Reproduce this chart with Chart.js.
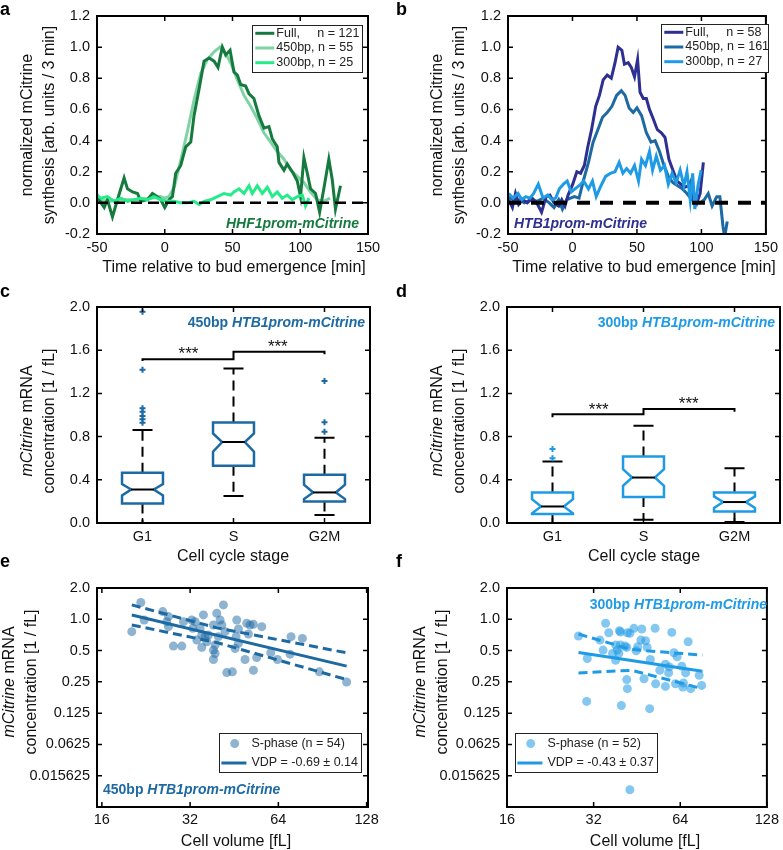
<!DOCTYPE html>
<html>
<head>
<meta charset="utf-8">
<title>mCitrine synthesis and mRNA concentration</title>
<script src="https://cdn.jsdelivr.net/npm/chart.js@4.4.1/dist/chart.umd.min.js"></script>
<style>
  html, body { margin: 0; padding: 0; background: #fff; }
  #fig { position: relative; width: 783px; height: 850px; overflow: hidden; }
  #fig canvas { position: absolute; }
  .tag { position: absolute; font: bold 18px 'Liberation Sans', Arial, sans-serif; line-height: 18px; color: #000; }
</style>
</head>
<body>
<div id="fig">
  <canvas id="pa" width="392" height="280" style="left:0px;top:0px"></canvas>
  <canvas id="pb" width="391" height="280" style="left:392px;top:0px"></canvas>
  <canvas id="pc" width="392" height="290" style="left:0px;top:280px"></canvas>
  <canvas id="pd" width="391" height="290" style="left:392px;top:280px"></canvas>
  <canvas id="pe" width="392" height="290" style="left:0px;top:560px"></canvas>
  <canvas id="pf" width="391" height="290" style="left:392px;top:560px"></canvas>
  <div class="tag" style="left:0px;top:0px">a</div>
  <div class="tag" style="left:396px;top:0px">b</div>
  <div class="tag" style="left:0px;top:282px">c</div>
  <div class="tag" style="left:396px;top:282px">d</div>
  <div class="tag" style="left:0px;top:552px">e</div>
  <div class="tag" style="left:396px;top:552px">f</div>
</div>
<script>
const FONT = "'Liberation Sans', Arial, sans-serif";
Chart.defaults.font.family = FONT;

// ---- panel a: HHF1 promoter, synthesis vs time ----
const tA_full = [-51,-47.2,-44.7,-42.3,-38.6,-34.9,-30,-27.5,-23.8,-20.1,-17.7,-12.8,-9.1,-5.4,-2.9,0,3.2,5.7,8.1,11.8,15.5,19.2,21.6,25.3,29,32.7,36.4,39.3,42.5,45,48.2,51.1,53.6,56,59.7,62.2,65.8,69.5,73.2,76.9,79.4,83,84.3,88,90.4,94.8,97.8,100.2,102.7,105.2,107.6,111.3,114.3,117.4,121.1,123.6,126,129.7];
const yA_full = [0.07,0.0,-0.03,0.02,-0.09,0.02,0.16,0.09,0.07,0.06,0.01,0.02,0.06,0.04,0.02,-0.03,0.02,0.04,0.19,0.24,0.36,0.39,0.56,0.73,0.91,0.93,0.91,0.87,1.0,0.95,0.98,0.84,0.82,0.76,0.75,0.70,0.67,0.56,0.48,0.49,0.41,0.36,0.26,0.21,0.25,0.19,0.14,0.04,0.29,0.19,0.09,0.06,-0.06,0.09,0.28,0.15,-0.04,0.11];
const tA_450 = [-52,-40,-30,-20,-10,-3,0,3,7,12,17,21.6,26.5,31.4,36.4,40.8,45,48.6,53.6,58.5,63.4,68.3,73.2,78.1,83,88,92.9,97.8,102.7,107.6,112.5,117,122];
const yA_450 = [0.02,0.01,0.02,0.02,0.03,0.04,0.03,0.04,0.10,0.28,0.47,0.66,0.83,0.92,0.97,1.0,0.96,0.90,0.79,0.69,0.62,0.54,0.45,0.39,0.33,0.28,0.21,0.17,0.13,0.07,0.02,0.01,0.03];
const tA_300 = [-52,-47.2,-42.3,-37.3,-32.4,-27.5,-22.6,-17.7,-12.8,-7.9,-2.9,2,6.9,11.8,16.7,21.6,25.3,29,33.9,38.8,43.7,48.6,51.1,54.8,58.5,62.2,64.6,68.3,72,75.7,79.4,83,86.7,90.4,94.1,97.8,101.5,103.9,106.4];
const yA_300 = [0.06,0.03,0.04,0.01,0.03,0.01,0.02,0.03,0.02,0.04,0.02,0.01,0.01,0.0,0.0,0.01,-0.01,0.01,0.02,0.04,0.06,0.05,0.07,0.09,0.06,0.11,0.06,0.11,0.06,0.10,0.04,0.07,0.03,0.05,0.02,0.04,0.05,-0.02,0.03];
const legendA = ['Full,     n = 121', '450bp, n = 55', '300bp, n = 25'];

// ---- panel b: HTB1 promoter, synthesis vs time ----
const tB_full = [-49.5,-46.6,-44.2,-41.7,-38.6,-35,-31.3,-27.7,-24,-20.4,-17.5,-14.3,-10.7,-8.3,-5.8,-3.4,0.2,3.4,6.3,9.2,11.9,14.8,18,20.9,23.8,26.9,30.1,33,35.4,38.3,40.3,43.2,45.6,48.1,50.5,52.4,54.9,57.3,59.7,62.6,65.8,68.9,71.8,74.8,77.9,81.1,84,86.9,90,92.5,94.2,96.1,99,101.5];
const yB_full = [0.02,-0.03,0.06,-0.01,0.02,0,0.03,0,-0.06,0.04,0.05,0,-0.02,0.02,-0.02,0.05,0.12,0.20,0.19,0.24,0.36,0.47,0.62,0.69,0.79,0.82,0.80,0.90,1.0,0.98,0.89,0.90,0.87,0.81,0.92,0.71,0.67,0.67,0.60,0.54,0.47,0.45,0.42,0.28,0.21,0.14,0.12,0.10,0.11,0.15,0.0,-0.01,0.06,0.26];
const tB_450 = [-49.5,-44.7,-41,-37.4,-32.5,-27.7,-22.8,-18,-14.3,-10.7,-7.8,-4.6,-1.5,1.5,5.1,8.7,12.4,16,19.7,23.3,26.9,30.6,34.2,37.9,40.8,43.9,47.1,50,53.6,57.3,60.9,64.1,67.5,70.6,74.3,77.9,81.6,85.2,88.8,92.5,96.1,99,102.2,105.3,108.3,111.9,114.3,116.7,118,120];
const yB_450 = [0.04,0.01,0.02,0,0.02,0.01,0.03,0,-0.03,0.02,-0.04,0.02,0.03,0.04,0.03,0.15,0.26,0.39,0.47,0.55,0.58,0.62,0.69,0.72,0.69,0.61,0.58,0.61,0.56,0.45,0.39,0.40,0.33,0.25,0.17,0.13,0.11,0.09,0.06,0.02,0,0,0.02,0.06,-0.02,0.04,0.04,-0.15,-0.22,-0.12];
const tB_300 = [-49.5,-45.9,-42.2,-39.3,-36.2,-33,-30.1,-26.5,-22.8,-19.2,-16,-13.1,-10.2,-7,-4.1,-1,1.9,5.1,8.7,12.4,15.5,18.4,22.1,25.7,29.4,33,36.2,39.1,42,45.1,48.1,51.2,53.6,56.6,59.7,62.1,65,68.2,71.4,74.3,77.2,80.4,83.5,86.4,88.8,91.3,93.2,94.9,97.3,99.8];
const yB_300 = [0.06,0.03,0.06,0.02,0.04,0.03,0.06,0.12,0.03,0.05,0.02,0.03,0.09,0.12,0.14,0.07,0.09,0.11,0.14,0.09,0.14,0.04,0.11,0.17,0.19,0.20,0.26,0.19,0.22,0.19,0.24,0.14,0.28,0.24,0.33,0.21,0.30,0.21,0.24,0.12,0.19,0.13,0.21,0.11,0.20,0.02,0.19,-0.04,0.11,0.21];
const legendB = ['Full,     n = 58', '450bp, n = 161', '300bp, n = 27'];

const zeroX = [-50, 150];
const zeroY = [0, 0];
const timeTicks = [-50, 0, 50, 100, 150];
const synthTicks = [-0.2, 0, 0.2, 0.4, 0.6, 0.8, 1.0, 1.2];

// ---- panels c, d: box plots by cell cycle stage ----
const stages = ['G1', 'S', 'G2M'];
const concTicks = [0, 0.4, 0.8, 1.2, 1.6, 2.0];
const c_q1 = [0.18, 0.53, 0.20], c_q3 = [0.465, 0.93, 0.447], c_med = [0.31, 0.75, 0.283];
const c_lo = [0.0, 0.25, 0.075], c_hi = [0.86, 1.43, 0.79];
const c_nlo = [0.255, 0.66, 0.222], c_nhi = [0.36, 0.83, 0.355];
const c_outX = [1, 1, 1, 1, 1, 1, 1, 3, 3, 3];
const c_outY = [1.955, 1.42, 1.062, 1.031, 0.991, 0.96, 0.929, 1.314, 0.932, 0.846];
const c_brkX = [1, 1, 2, 2, 3, 3];
const c_brkY = [1.50, 1.517, 1.517, 1.585, 1.585, 1.563];
const d_q1 = [0.083, 0.24, 0.107], d_q3 = [0.283, 0.615, 0.283], d_med = [0.153, 0.421, 0.194];
const d_lo = [0.0, 0.03, 0.01], d_hi = [0.569, 0.901, 0.508];
const d_nlo = [0.09, 0.344, 0.139], d_nhi = [0.22, 0.498, 0.246];
const d_outX = [1, 1];
const d_outY = [0.686, 0.60];
const d_brkX = [1, 1, 2, 2, 3, 3];
const d_brkY = [0.98, 1.006, 1.006, 1.055, 1.055, 1.03];

// ---- panels e, f: concentration vs cell volume (S-phase) ----
const e_vol = [20.24,21.72,22.30,25.81,26.64,27.00,27.00,28.07,29.98,30.38,32.42,33.29,32.68,34.61,35.06,35.53,36.0,36.96,36.48,38.43,38.94,38.94,38.43,39.45,40.50,41.04,41.58,42.12,42.67,44.60,45.56,45.92,46.16,46.77,49.27,49.92,50.58,51.24,52.60,54.0,56.17,60.30,63.52,70.17,70.72,77.29,88.31,109.4,52.60,33.73,38.43,39.97,46.77,35.06];
const e_conc = [0.760,1.450,0.985,1.186,0.949,1.061,0.849,0.552,0.552,0.949,0.985,0.949,0.818,0.818,0.536,1.101,0.680,0.705,0.608,0.882,0.565,0.469,0.410,1.143,0.985,0.882,1.376,0.760,0.307,0.312,0.524,0.680,0.985,0.806,0.410,0.915,0.721,0.882,0.323,0.429,0.849,0.476,0.410,0.462,0.680,0.655,0.312,0.249,0.894,0.631,0.505,0.680,0.586,0.705];
const e_fitX = [20.24, 109.4], e_fitY = [1.10, 0.354];
const e_ciX = [20.24, 39.45, 109.4], e_ciHi = [1.376, 0.827, 0.476], e_ciLo = [0.882, 0.597, 0.263];
const f_vol = [28.35,30.42,30.27,35.21,36.12,37.23,38.18,38.66,39.34,39.64,39.94,41.18,41.70,41.91,41.70,41.91,42.76,44.17,44.97,47.05,47.89,48.50,49.11,50.37,50.11,52.31,52.56,56.84,56.84,58.30,59.80,60.85,62.42,64.82,65.64,65.30,66.80,68.16,69.56,74.44,75.94,39.64,42.76,45.54,39.15,33.66,34.51,38.18,54.33,58.61,61.61,46.69];
const f_conc = [0.690,0.419,0.162,0.915,0.743,0.469,0.404,0.505,0.777,0.565,0.148,0.552,0.536,0.743,0.263,0.215,0.0229,0.818,0.497,0.806,0.268,0.622,0.536,0.410,0.138,0.818,0.240,0.226,0.370,0.305,0.748,0.476,0.435,0.354,0.244,0.223,0.305,0.608,0.215,0.289,0.231,0.754,0.732,0.544,0.469,0.631,0.505,0.565,0.323,0.348,0.240,0.631];
const f_fitX = [28.35, 76.4], f_fitY = [0.479, 0.316];
const f_ciX = [28.35, 43.3, 76.4], f_ciHi = [0.721, 0.512, 0.452], f_ciLo = [0.305, 0.323, 0.215];
const volTicks = [16, 32, 64, 128];
const logTicks = [2, 1, 0.5, 0.25, 0.125, 0.0625, 0.03125];
const logLabels = ['2.0', '1.0', '0.5', '0.25', '0.125', '0.0625', '0.015625'];
const legendE = ['S-phase (n = 54)', 'VDP = -0.69 \u00b1 0.14'];
const legendF = ['S-phase (n = 52)', 'VDP = -0.43 \u00b1 0.37'];

// colours
const GREEN_DARK = '#157a3d', GREEN_LIGHT = '#80d3a5', GREEN_BRIGHT = '#25ec88';
const BLUE_FULL = '#2d2f91', BLUE_450 = '#1d6aa3', BLUE_300 = '#1f9be6';
const DOT_450 = 'rgba(29,106,163,0.5)', DOT_300 = 'rgba(31,155,230,0.55)';

// ---- helpers ----
const pts = (xs, ys) => xs.map((x, i) => ({ x, y: ys[i] }));
const line = (xs, ys, color, width, order, dash) => ({
  data: pts(xs, ys), showLine: true, borderColor: color, backgroundColor: color,
  borderWidth: width, pointRadius: 0, borderDash: dash || [], order, tension: 0
});

// per-panel decorations, kept outside chart options so Chart.js does not proxy them
const extras = {};

function drawRich(chart, it) {
  const ctx = chart.ctx;
  let x = it.x, y = it.y;
  if (it.at) {
    x = chart.scales.x.getPixelForValue(it.at[0]);
    y = chart.scales.y.getPixelForValue(it.at[1]);
  }
  y += it.oy || 0;
  const parts = it.parts.map(p => ({ t: p[0], f: (p[1] || '') + ' ' + it.size + 'px ' + FONT }));
  ctx.save();
  ctx.fillStyle = it.color || '#111';
  ctx.textBaseline = 'middle';
  ctx.textAlign = 'left';
  let w = 0;
  parts.forEach(p => { ctx.font = p.f; p.w = ctx.measureText(p.t).width; w += p.w; });
  ctx.translate(x, y);
  if (it.rot) ctx.rotate(-Math.PI / 2);
  let cx = it.align === 'left' ? 0 : it.align === 'right' ? -w : -w / 2;
  parts.forEach(p => { ctx.font = p.f; ctx.fillText(p.t, cx, 0); cx += p.w; });
  ctx.restore();
}

function drawLegend(ctx, lg) {
  const [bx, by, bw, bh] = lg.box;
  ctx.save();
  ctx.fillStyle = '#fff';
  ctx.fillRect(bx, by, bw, bh);
  ctx.strokeStyle = '#222';
  ctx.lineWidth = 1;
  ctx.strokeRect(bx + 0.5, by + 0.5, bw, bh);
  lg.rows.forEach((r, i) => {
    const y = by + lg.y0 + i * lg.dy;
    if (r.kind === 'dot') {
      ctx.fillStyle = r.color;
      ctx.beginPath(); ctx.arc(bx + lg.mx, y, 4.5, 0, 2 * Math.PI); ctx.fill();
    } else {
      ctx.strokeStyle = r.color; ctx.lineWidth = 3;
      ctx.beginPath(); ctx.moveTo(bx + lg.l0, y); ctx.lineTo(bx + lg.l1, y); ctx.stroke();
    }
    ctx.fillStyle = '#222';
    ctx.font = lg.size + 'px ' + FONT;
    ctx.textBaseline = 'middle';
    ctx.textAlign = 'left';
    ctx.fillText(r.text, bx + lg.tx, y);
  });
  ctx.restore();
}

function drawBoxes(chart, bx) {
  const ctx = chart.ctx, xs = chart.scales.x, ys = chart.scales.y;
  const X = v => xs.getPixelForValue(v), Y = v => ys.getPixelForValue(v);
  ctx.save();
  for (let i = 0; i < bx.q1.length; i++) {
    const c = i + 1;
    const xl = X(c - 0.225), xr = X(c + 0.225), xnl = X(c - 0.125), xnr = X(c + 0.125);
    // whiskers
    ctx.strokeStyle = '#000'; ctx.lineWidth = 2; ctx.setLineDash([10, 6]);
    ctx.beginPath();
    ctx.moveTo(X(c), Y(bx.q3[i])); ctx.lineTo(X(c), Y(bx.hi[i]));
    ctx.moveTo(X(c), Y(bx.q1[i])); ctx.lineTo(X(c), Y(bx.lo[i]));
    ctx.stroke();
    ctx.setLineDash([]);
    ctx.beginPath();
    ctx.moveTo(X(c - 0.11), Y(bx.hi[i])); ctx.lineTo(X(c + 0.11), Y(bx.hi[i]));
    ctx.moveTo(X(c - 0.11), Y(bx.lo[i])); ctx.lineTo(X(c + 0.11), Y(bx.lo[i]));
    ctx.stroke();
    // notched box
    ctx.strokeStyle = bx.color; ctx.lineWidth = 2.5;
    ctx.beginPath();
    ctx.moveTo(xl, Y(bx.q3[i])); ctx.lineTo(xr, Y(bx.q3[i]));
    ctx.lineTo(xr, Y(bx.nhi[i])); ctx.lineTo(xnr, Y(bx.med[i])); ctx.lineTo(xr, Y(bx.nlo[i]));
    ctx.lineTo(xr, Y(bx.q1[i])); ctx.lineTo(xl, Y(bx.q1[i]));
    ctx.lineTo(xl, Y(bx.nlo[i])); ctx.lineTo(xnl, Y(bx.med[i])); ctx.lineTo(xl, Y(bx.nhi[i]));
    ctx.closePath();
    ctx.stroke();
    // median
    ctx.strokeStyle = '#000'; ctx.lineWidth = 2;
    ctx.beginPath(); ctx.moveTo(xnl, Y(bx.med[i])); ctx.lineTo(xnr, Y(bx.med[i])); ctx.stroke();
  }
  ctx.restore();
}

const panelPlugin = {
  id: 'panel',
  beforeDatasetsDraw(chart) {
    const o = extras[chart.canvas.id];
    if (o && o.boxes) drawBoxes(chart, o.boxes);
  },
  afterDraw(chart) {
    const o = extras[chart.canvas.id] || {};
    const ctx = chart.ctx, a = chart.chartArea, xs = chart.scales.x, ys = chart.scales.y;
    ctx.save();
    ctx.strokeStyle = '#000';
    ctx.lineWidth = 1.5;
    ctx.beginPath();
    xs.ticks.forEach(t => {
      const p = xs.getPixelForValue(t.value);
      ctx.moveTo(p, a.bottom); ctx.lineTo(p, a.bottom - 5);
      ctx.moveTo(p, a.top); ctx.lineTo(p, a.top + 5);
    });
    ys.ticks.forEach(t => {
      const p = ys.getPixelForValue(t.value);
      ctx.moveTo(a.left, p); ctx.lineTo(a.left + 5, p);
      ctx.moveTo(a.right, p); ctx.lineTo(a.right - 5, p);
    });
    ctx.stroke();
    ctx.lineWidth = 2;
    ctx.strokeRect(a.left, a.top, a.right - a.left, a.bottom - a.top);
    ctx.restore();
    if (o.legend) drawLegend(ctx, o.legend);
    (o.texts || []).forEach(t => drawRich(chart, t));
  }
};

function axis(spec, fit) {
  return {
    type: spec.type || 'linear',
    min: spec.min, max: spec.max, bounds: 'data',
    grid: { display: false, drawTicks: false },
    border: { display: false },
    ticks: {
      autoSkip: false, maxRotation: 0, minRotation: 0, padding: spec.pad,
      color: '#111', font: { family: FONT, size: 14.5 },
      callback: (v, i) => spec.labels[i]
    },
    afterBuildTicks: s => { s.ticks = spec.vals.map(v => ({ value: v })); },
    afterFit: fit
  };
}

function panel(id, g, xSpec, ySpec, datasets, extra) {
  const cv = document.getElementById(id);
  extras[id] = extra;
  return new Chart(cv, {
    type: 'scatter',
    data: { datasets },
    options: {
      responsive: false, animation: false, devicePixelRatio: 1, events: [],
      layout: { autoPadding: false, padding: { left: 0, top: g.T, right: cv.width - g.R, bottom: 0 } },
      plugins: { legend: { display: false }, tooltip: { enabled: false } },
      scales: {
        x: axis(xSpec, s => { s.height = cv.height - g.B; }),
        y: axis(ySpec, s => { s.width = g.L; })
      }
    },
    plugins: [panelPlugin]
  });
}

const timeAxis = { min: -50, max: 150, vals: timeTicks, labels: timeTicks.map(String), pad: 5 };
const synthAxis = { min: -0.2, max: 1.2, vals: synthTicks, labels: synthTicks.map(v => v.toFixed(1)), pad: 7 };
const stageAxis = { min: 0.5, max: 3.5, vals: [1, 2, 3], labels: stages, pad: 5 };
const concAxis = { min: 0, max: 2.0, vals: concTicks, labels: concTicks.map(v => v.toFixed(1)), pad: 7 };
const logConcAxis = { type: 'logarithmic', min: 0.015625, max: 2, vals: logTicks, labels: logLabels, pad: 7 };

const lineLegend = (box, colors, labels) => ({
  box, y0: 8.3, dy: 14.7, l0: 3.3, l1: 22.3, tx: 24.3, size: 12.5,
  rows: labels.map((t, i) => ({ kind: 'line', color: colors[i], text: t }))
});
const dotLegend = (box, dot, col, labels) => ({
  box, y0: 10.6, dy: 19.4, mx: 15.7, l0: 2.4, l1: 27.4, tx: 32.4, size: 12.5,
  rows: [{ kind: 'dot', color: dot, text: labels[0] }, { kind: 'line', color: col, text: labels[1] }]
});
const yTitle = (x, y, parts) => ({ x, y, size: 16, rot: true, parts });

// a
panel('pa', { L: 97, T: 16, R: 368, B: 234 }, timeAxis, synthAxis, [
  line(zeroX, zeroY, '#000', 2.5, 0, [11, 6]),
  line(tA_300, yA_300, GREEN_BRIGHT, 3, 1),
  line(tA_full, yA_full, GREEN_DARK, 3, 2),
  line(tA_450, yA_450, GREEN_LIGHT, 3, 3)
], {
  legend: lineLegend([252, 25, 110, 47], [GREEN_DARK, GREEN_LIGHT, GREEN_BRIGHT], legendA),
  texts: [
    { x: 359, y: 224, size: 14, color: GREEN_DARK, align: 'right', parts: [['HHF1prom-mCitrine', 'italic bold']] },
    { x: 234, y: 268, size: 16, parts: [['Time relative to bud emergence [min]']] },
    yTitle(28, 125, [['normalized mCitrine']]),
    yTitle(50, 125, [['synthesis [arb. units / 3 min]']])
  ]
});

// b
panel('pb', { L: 116, T: 16, R: 389, B: 234 }, timeAxis, synthAxis, [
  line(zeroX, zeroY, '#000', 4, 0, [13, 10]),
  line(tB_300, yB_300, BLUE_300, 3, 1),
  line(tB_full, yB_full, BLUE_FULL, 3, 2),
  line(tB_450, yB_450, BLUE_450, 3, 3)
], {
  legend: lineLegend([269, 24, 107, 48], [BLUE_FULL, BLUE_450, BLUE_300], legendB),
  texts: [
    { x: 122, y: 224, size: 14, color: BLUE_FULL, align: 'left', parts: [['HTB1prom-mCitrine', 'italic bold']] },
    { x: 252, y: 268, size: 16, parts: [['Time relative to bud emergence [min]']] },
    yTitle(45.7, 125, [['normalized mCitrine']]),
    yTitle(67.3, 125, [['synthesis [arb. units / 3 min]']])
  ]
});

// c
panel('pc', { L: 97, T: 27, R: 370, B: 243 }, stageAxis, concAxis, [
  line(c_brkX, c_brkY, '#000', 2, 0),
  { data: pts(c_outX, c_outY), pointStyle: 'cross', pointRadius: 3, borderWidth: 2, borderColor: BLUE_450, order: 1 }
], {
  boxes: { q1: c_q1, q3: c_q3, med: c_med, lo: c_lo, hi: c_hi, nlo: c_nlo, nhi: c_nhi, color: BLUE_450 },
  texts: [
    { x: 365, y: 42.7, size: 14, color: BLUE_450, align: 'right', parts: [['450bp ', 'bold'], ['HTB1prom-mCitrine', 'italic bold']] },
    { at: [1.505, 1.6], oy: 4, size: 17, parts: [['***']] },
    { at: [2.487, 1.668], oy: 4, size: 17, parts: [['***']] },
    { x: 233, y: 276.7, size: 16, parts: [['Cell cycle stage']] },
    yTitle(28, 141, [['mCitrine', 'italic'], [' mRNA']]),
    yTitle(50, 141, [['concentration [1 / fL]']])
  ]
});

// d
panel('pd', { L: 115, T: 27, R: 388, B: 243 }, stageAxis, concAxis, [
  line(d_brkX, d_brkY, '#000', 2, 0),
  { data: pts(d_outX, d_outY), pointStyle: 'cross', pointRadius: 3, borderWidth: 2, borderColor: BLUE_300, order: 1 }
], {
  boxes: { q1: d_q1, q3: d_q3, med: d_med, lo: d_lo, hi: d_hi, nlo: d_nlo, nhi: d_nhi, color: BLUE_300 },
  texts: [
    { x: 383, y: 42.7, size: 14, color: BLUE_300, align: 'right', parts: [['300bp ', 'bold'], ['HTB1prom-mCitrine', 'italic bold']] },
    { at: [1.508, 1.083], oy: 4, size: 17, parts: [['***']] },
    { at: [2.497, 1.138], oy: 4, size: 17, parts: [['***']] },
    { x: 252, y: 276.7, size: 16, parts: [['Cell cycle stage']] },
    yTitle(45.7, 141, [['mCitrine', 'italic'], [' mRNA']]),
    yTitle(67.3, 141, [['concentration [1 / fL]']])
  ]
});

// e
panel('pe', { L: 97, T: 28, R: 368, B: 247 },
  { type: 'logarithmic', min: 15.4, max: 129.4, vals: volTicks, labels: volTicks.map(String), pad: 4 }, logConcAxis, [
  line(e_fitX, e_fitY, BLUE_450, 3, 0),
  line(e_ciX, e_ciHi, BLUE_450, 3, 1, [9, 5]),
  line(e_ciX, e_ciLo, BLUE_450, 3, 2, [9, 5]),
  { data: pts(e_vol, e_conc), pointRadius: 4.5, borderWidth: 0, backgroundColor: DOT_450, order: 3 }
], {
  legend: dotLegend([219, 173, 142, 39], DOT_450, BLUE_450, legendE),
  texts: [
    { x: 103, y: 230, size: 14, color: BLUE_450, align: 'left', parts: [['450bp ', 'bold'], ['HTB1prom-mCitrine', 'italic bold']] },
    { x: 236, y: 281.7, size: 16, parts: [['Cell volume [fL]']] },
    yTitle(10, 122, [['mCitrine', 'italic'], [' mRNA']]),
    yTitle(31.7, 122, [['concentration [1 / fL]']])
  ]
});

// f
panel('pf', { L: 115, T: 28, R: 388, B: 247 },
  { type: 'logarithmic', min: 16, max: 128, vals: volTicks, labels: volTicks.map(String), pad: 4 }, logConcAxis, [
  line(f_fitX, f_fitY, BLUE_300, 3, 0),
  line(f_ciX, f_ciHi, BLUE_300, 3, 1, [9, 5]),
  line(f_ciX, f_ciLo, BLUE_300, 3, 2, [9, 5]),
  { data: pts(f_vol, f_conc), pointRadius: 4.5, borderWidth: 0, backgroundColor: DOT_300, order: 3 }
], {
  legend: dotLegend([123, 173, 142, 39], DOT_300, BLUE_300, legendF),
  texts: [
    { x: 375, y: 45, size: 14, color: BLUE_300, align: 'right', parts: [['300bp ', 'bold'], ['HTB1prom-mCitrine', 'italic bold']] },
    { x: 253, y: 281.7, size: 16, parts: [['Cell volume [fL]']] },
    yTitle(29, 122, [['mCitrine', 'italic'], [' mRNA']]),
    yTitle(50.7, 122, [['concentration [1 / fL]']])
  ]
});
</script>
</body>
</html>
